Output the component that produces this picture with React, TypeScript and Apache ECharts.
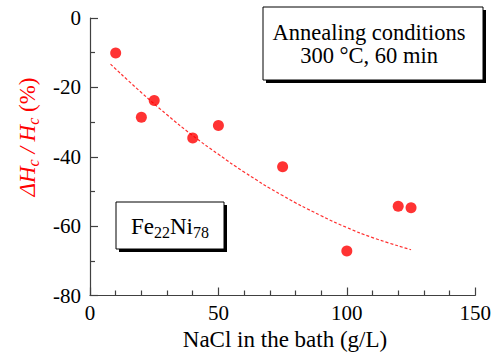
import React, { useEffect, useRef } from "react";
import * as echarts from "echarts";

// NaCl concentration in the bath (g/L)
const naclValues = [10, 20, 25, 40, 50, 75, 100, 120, 125];
// Relative change of coercivity ΔHc/Hc (%)
const deltaHcValues = [-10.1, -28.6, -23.8, -34.6, -31.0, -42.9, -67.2, -54.3, -54.7];
// Dashed trend line
const trendX = [8, 20, 30, 40, 50, 60, 75, 90, 100, 110, 125];
const trendY = [-13.3, -21.5, -27.9, -33.9, -39.3, -44.4, -51.2, -57.0, -60.4, -63.3, -66.8];

const xTicks = [0, 50, 100, 150];
const yTicks = [-80, -60, -40, -20, 0];

const FONT = "'Liberation Serif', 'Times New Roman', serif";

export default function App() {
  const ref = useRef<HTMLDivElement>(null);
  useEffect(() => {
    if (!ref.current) return;
    const chart = echarts.init(ref.current, null, { renderer: "svg" });
    const axisColor = "#404040";
    chart.setOption({
      animation: false,
      backgroundColor: "#ffffff",
      grid: { left: 90, right: 17, top: 18, bottom: 62.5 },
      xAxis: {
        type: "value",
        min: xTicks[0],
        max: xTicks[xTicks.length - 1],
        interval: 50,
        axisLine: { show: true, onZero: false, lineStyle: { color: axisColor, width: 1.2 } },
        axisTick: { show: true, inside: true, length: 8, lineStyle: { color: axisColor, width: 1.2 } },
        minorTick: { show: true, splitNumber: 5, length: 5, lineStyle: { color: axisColor, width: 1.2 } },
        splitLine: { show: false },
        axisLabel: { color: "#000", fontFamily: FONT, fontSize: 21, margin: 7 },
      },
      yAxis: {
        type: "value",
        min: yTicks[0],
        max: yTicks[yTicks.length - 1],
        interval: 20,
        axisLine: { show: true, onZero: false, lineStyle: { color: axisColor, width: 1.2 } },
        axisTick: { show: true, inside: true, length: 8, lineStyle: { color: axisColor, width: 1.2 } },
        minorTick: { show: true, splitNumber: 2, length: 5, lineStyle: { color: axisColor, width: 1.2 } },
        splitLine: { show: false },
        axisLabel: { color: "#000", fontFamily: FONT, fontSize: 21, margin: 9 },
      },
      series: [
        {
          type: "line",
          data: trendX.map((x, i) => [x, trendY[i]]),
          smooth: true,
          symbol: "none",
          lineStyle: { color: "#ff3030", width: 1.2, type: [3, 2] },
          z: 2,
        },
        {
          type: "scatter",
          data: naclValues.map((x, i) => [x, deltaHcValues[i]]),
          symbol: "circle",
          symbolSize: 11,
          itemStyle: { color: "#ff0000" },
          z: 3,
        },
      ],
      graphic: [
        // Annealing conditions box
        { type: "rect", shape: { x: 266, y: 10, width: 220, height: 73 }, style: { fill: "#000" }, z: 10 },
        { type: "rect", shape: { x: 263, y: 7, width: 220, height: 73 }, style: { fill: "#fff", stroke: "#000", lineWidth: 1 }, z: 11 },
        {
          type: "text", x: 369, y: 32.5, z: 12,
          style: { text: "Annealing conditions", font: `22.5px ${FONT}`, fill: "#000", align: "center", verticalAlign: "middle", textAlign: "center", textVerticalAlign: "middle" },
        },
        {
          type: "text", x: 369, y: 55.5, z: 12,
          style: { text: "300 °C, 60 min", font: `22.5px ${FONT}`, fill: "#000", align: "center", verticalAlign: "middle", textAlign: "center", textVerticalAlign: "middle" },
        },
        // Fe22Ni78 box
        { type: "rect", shape: { x: 119, y: 205, width: 108, height: 47 }, style: { fill: "#000" }, z: 10 },
        { type: "rect", shape: { x: 116, y: 202, width: 108, height: 47 }, style: { fill: "#fff", stroke: "#000", lineWidth: 1 }, z: 11 },
        {
          type: "text", x: 170, y: 226, z: 12,
          style: {
            text: "{m|Fe}{s|22}{m|Ni}{s|78}",
            align: "center", verticalAlign: "middle", textAlign: "center", textVerticalAlign: "middle",
            rich: {
              m: { fontFamily: FONT, fontSize: 23, fill: "#000", color: "#000", verticalAlign: "middle" },
              s: { fontFamily: FONT, fontSize: 16, fill: "#000", color: "#000", verticalAlign: "middle", padding: [12, 0, 0, 0] },
            },
          },
        },
        // Y axis title
        {
          type: "text", x: 27, y: 137, rotation: Math.PI / 2, z: 12,
          style: {
            text: "{i|ΔH}{s|c}{i| / H}{s|c}{n| (%)}",
            align: "center", verticalAlign: "middle", textAlign: "center", textVerticalAlign: "middle",
            rich: {
              i: { fontFamily: FONT, fontSize: 23, fontStyle: "italic", fill: "#ff0000", color: "#ff0000", verticalAlign: "middle" },
              s: { fontFamily: FONT, fontSize: 16, fontStyle: "italic", fill: "#ff0000", color: "#ff0000", verticalAlign: "middle", padding: [12, 0, 0, 0] },
              n: { fontFamily: FONT, fontSize: 23, fill: "#ff0000", color: "#ff0000", verticalAlign: "middle" },
            },
          },
        },
        // X axis title
        {
          type: "text", x: 285, y: 339, z: 12,
          style: { text: "NaCl in the bath (g/L)", font: `23px ${FONT}`, fill: "#000", align: "center", verticalAlign: "middle", textAlign: "center", textVerticalAlign: "middle" },
        },
      ],
    });
    return () => chart.dispose();
  }, []);
  return <div ref={ref} style={{ width: 494, height: 358, position: "absolute", left: 0, top: 0 }} />;
}
